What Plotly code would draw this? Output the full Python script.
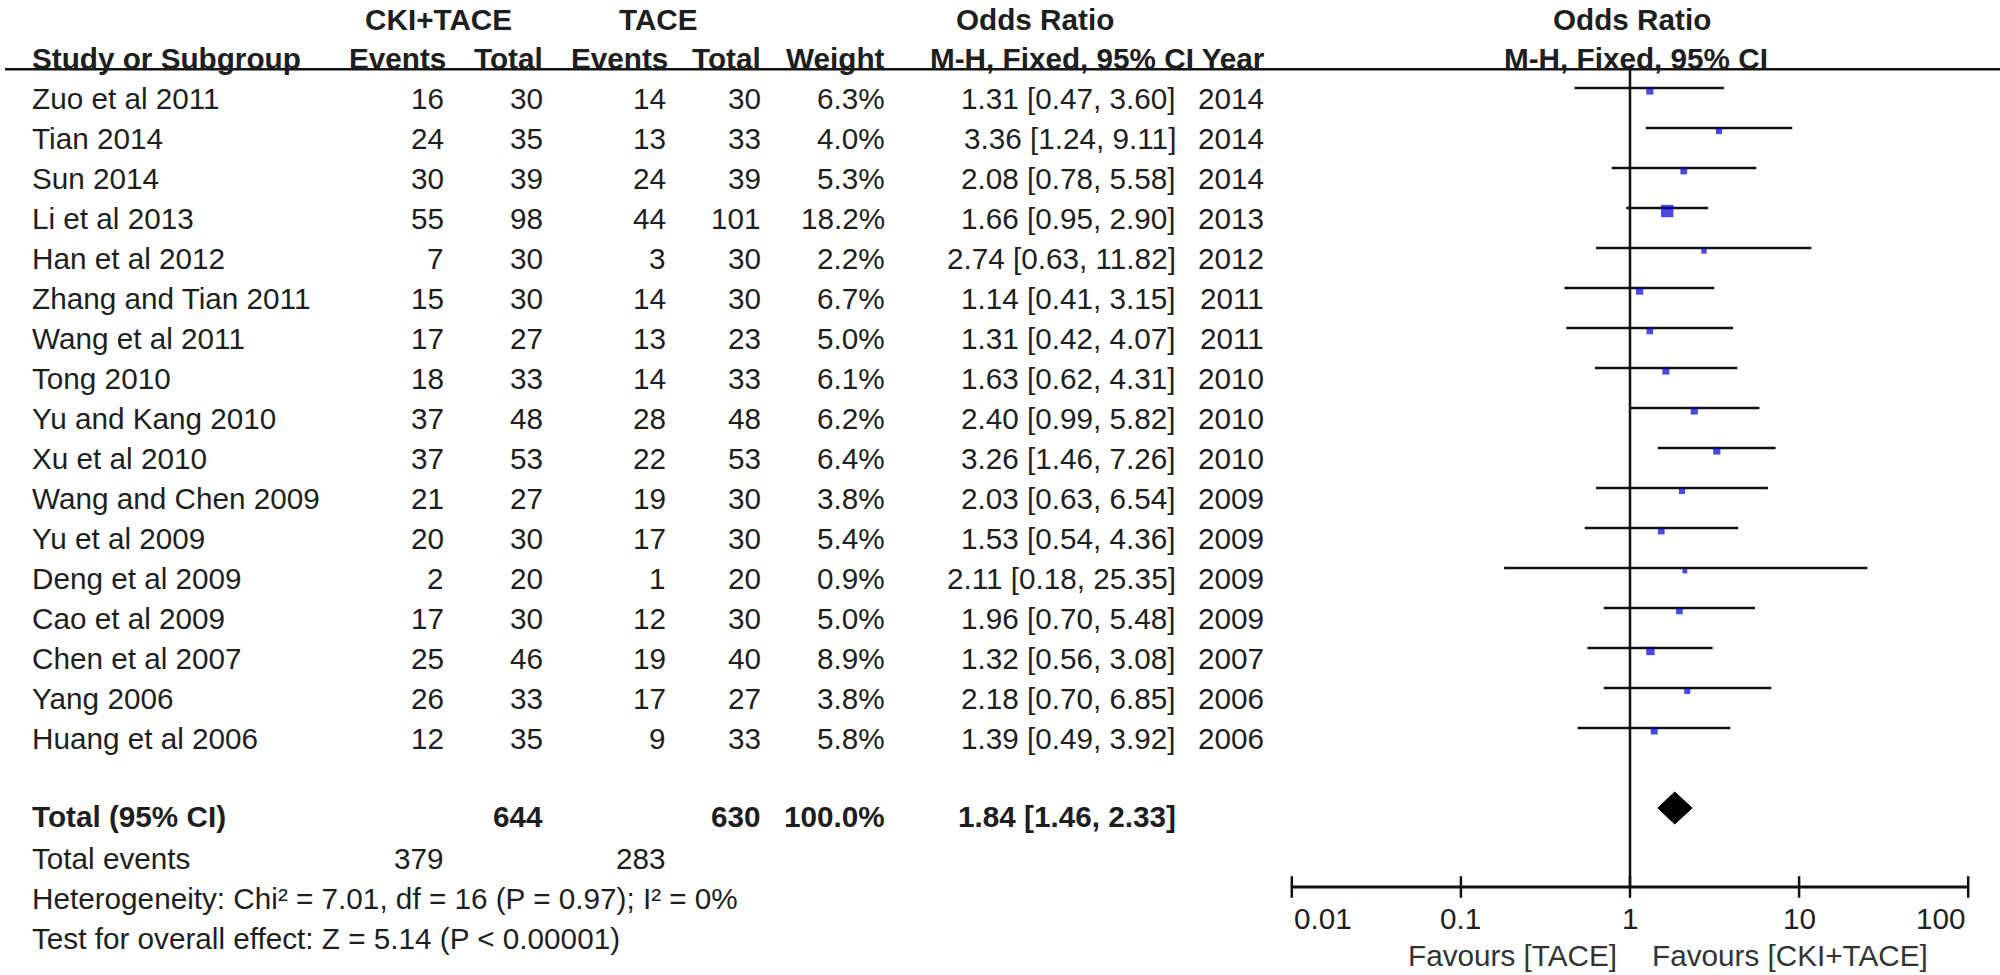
import numpy as np
import plotly.graph_objects as go

# ---------------- data ----------------
studies = ["Zuo et al 2011", "Tian 2014", "Sun 2014", "Li et al 2013", "Han et al 2012",
           "Zhang and Tian 2011", "Wang et al 2011", "Tong 2010", "Yu and Kang 2010",
           "Xu et al 2010", "Wang and Chen 2009", "Yu et al 2009", "Deng et al 2009",
           "Cao et al 2009", "Chen et al 2007", "Yang 2006", "Huang et al 2006"]
events_cki = [16, 24, 30, 55, 7, 15, 17, 18, 37, 37, 21, 20, 2, 17, 25, 26, 12]
total_cki = [30, 35, 39, 98, 30, 30, 27, 33, 48, 53, 27, 30, 20, 30, 46, 33, 35]
events_tace = [14, 13, 24, 44, 3, 14, 13, 14, 28, 22, 19, 17, 1, 12, 19, 17, 9]
total_tace = [30, 33, 39, 101, 30, 30, 23, 33, 48, 53, 30, 30, 20, 30, 40, 27, 33]
weights = [6.3, 4.0, 5.3, 18.2, 2.2, 6.7, 5.0, 6.1, 6.2, 6.4, 3.8, 5.4, 0.9, 5.0, 8.9, 3.8, 5.8]
odds = [1.31, 3.36, 2.08, 1.66, 2.74, 1.14, 1.31, 1.63, 2.40, 3.26, 2.03, 1.53, 2.11, 1.96, 1.32, 2.18, 1.39]
ci_low = [0.47, 1.24, 0.78, 0.95, 0.63, 0.41, 0.42, 0.62, 0.99, 1.46, 0.63, 0.54, 0.18, 0.70, 0.56, 0.70, 0.49]
ci_high = [3.60, 9.11, 5.58, 2.90, 11.82, 3.15, 4.07, 4.31, 5.82, 7.26, 6.54, 4.36, 25.35, 5.48, 3.08, 6.85, 3.92]
years = [2014, 2014, 2014, 2013, 2012, 2011, 2011, 2010, 2010, 2010, 2009, 2009, 2009, 2009, 2007, 2006, 2006]

total_n_cki = 644
total_n_tace = 630
total_weight = "100.0%"
total_or = 1.84
total_low = 1.46
total_high = 2.33
total_events_cki = 379
total_events_tace = 283
heterogeneity = "Heterogeneity: Chi² = 7.01, df = 16 (P = 0.97); I² = 0%"
overall = "Test for overall effect: Z = 5.14 (P < 0.00001)"

tick_vals = [0.01, 0.1, 1, 10, 100]
tick_text = ["0.01", "0.1", "1", "10", "100"]
favours_left = "Favours [TACE]"
favours_right = "Favours [CKI+TACE]"

# ---------------- layout helpers ----------------
W, H = 2000, 975
FONT = "Liberation Sans, Arial, sans-serif"
TXT = "#1e1e1e"
FS = 29.7

rows = list(range(1, len(studies) + 1))
total_row = len(studies) + 2
events_row = total_row + 1
het_row = total_row + 2
test_row = total_row + 3
axis_row = 20.975


def px(x):
    return x / W


annotations = []


def add_text(text, x, y, anchor="right", bold=False, yshift=-10, xref="paper", xshift=0, color=TXT):
    annotations.append(dict(
        text=str(text), x=x, y=y, xref=xref, yref="y", xanchor=anchor, yanchor="middle",
        showarrow=False, yshift=yshift, xshift=xshift,
        font=dict(family=FONT, size=FS, color=color, weight=700 if bold else 400)))


# column right edges in pixels
c_ev1, c_tot1, c_ev2, c_tot2, c_w, c_or, c_year = 446, 545, 668, 763, 887, 1178, 1266

# headers
hdr1 = -0.72
hdr2 = 0.25
add_text("CKI+TACE", px(438), hdr1, anchor="center", bold=True, yshift=0)
add_text("TACE", px(658), hdr1, anchor="center", bold=True, yshift=0)
add_text("Odds Ratio", px(1035), hdr1, anchor="center", bold=True, yshift=0)
add_text("Odds Ratio", 0, hdr1, anchor="center", bold=True, yshift=0, xref="x", xshift=2)
add_text("Study or Subgroup", px(30), hdr2, anchor="left", bold=True, yshift=0)
add_text("Events", px(c_ev1 + 2), hdr2, bold=True, yshift=0)
add_text("Total", px(c_tot1), hdr2, bold=True, yshift=0)
add_text("Events", px(c_ev2 + 2), hdr2, bold=True, yshift=0)
add_text("Total", px(c_tot2), hdr2, bold=True, yshift=0)
add_text("Weight", px(c_w), hdr2, bold=True, yshift=0)
add_text("M-H, Fixed, 95% CI Year", px(c_year + 1), hdr2, bold=True, yshift=0)
add_text("M-H, Fixed, 95% CI", 0, hdr2, anchor="center", bold=True, yshift=0, xref="x", xshift=6)

# study rows
for r, s, e1, t1, e2, t2, w, o, lo, hi, yr in zip(rows, studies, events_cki, total_cki, events_tace,
                                                   total_tace, weights, odds, ci_low, ci_high, years):
    add_text(s, px(30), r, anchor="left")
    add_text(e1, px(c_ev1), r)
    add_text(t1, px(c_tot1), r)
    add_text(e2, px(c_ev2), r)
    add_text(t2, px(c_tot2), r)
    add_text(f"{w:.1f}%", px(c_w), r)
    add_text(f"{o:.2f} [{lo:.2f}, {hi:.2f}]", px(c_or), r)
    add_text(yr, px(c_year), r)

# totals
add_text("Total (95% CI)", px(30), total_row, anchor="left", bold=True, yshift=-8)
add_text(total_n_cki, px(c_tot1), total_row, bold=True, yshift=-8)
add_text(total_n_tace, px(c_tot2), total_row, bold=True, yshift=-8)
add_text(total_weight, px(c_w), total_row, bold=True, yshift=-8)
add_text(f"{total_or:.2f} [{total_low:.2f}, {total_high:.2f}]", px(c_or), total_row, bold=True, yshift=-8)
add_text("Total events", px(30), events_row, anchor="left")
add_text(total_events_cki, px(c_ev1), events_row)
add_text(total_events_tace, px(c_ev2), events_row)
add_text(heterogeneity, px(30), het_row, anchor="left")
add_text(overall, px(30), test_row, anchor="left")

# axis tick labels & favours labels
for i, (v, t) in enumerate(zip(tick_vals, tick_text)):
    anchor = "left" if i == 0 else ("right" if i == len(tick_vals) - 1 else "center")
    add_text(t, float(np.log10(v)), axis_row, anchor=anchor, xref="x", yshift=-31)
add_text(favours_left, 0, axis_row, anchor="right", xref="x", yshift=-68, xshift=-11, color="#333333")
add_text(favours_right, 0, axis_row, anchor="left", xref="x", yshift=-68, xshift=20, color="#333333")

# ---------------- traces ----------------
fig = go.Figure()

ci_x, ci_y = [], []
for r, lo, hi in zip(rows, ci_low, ci_high):
    ci_x += [lo, hi, None]
    ci_y += [r, r, None]
fig.add_trace(go.Scatter(x=ci_x, y=ci_y, mode="lines", line=dict(color="#111111", width=2.5),
                         hoverinfo="skip", showlegend=False))

square_offset = 3 / 40  # squares sit a few pixels below the CI line
fig.add_trace(go.Scatter(x=odds, y=[r + square_offset for r in rows], mode="markers",
                         marker=dict(symbol="square", color="#0000CC",
                                     size=[4.4 + 0.44 * w for w in weights],
                                     line=dict(width=0)),
                         showlegend=False))

dh = 0.4
fig.add_trace(go.Scatter(x=[total_low, total_or, total_high, total_or, total_low],
                         y=[total_row, total_row - dh, total_row, total_row + dh, total_row],
                         mode="lines", fill="toself", fillcolor="#000000",
                         line=dict(color="#000000", width=1), showlegend=False))

shapes = []
# header divider
shapes.append(dict(type="line", xref="paper", yref="y", x0=px(5), x1=1, y0=0.53, y1=0.53,
                   line=dict(color="#111111", width=2.5)))
# line of no effect
shapes.append(dict(type="line", xref="x", yref="y", x0=1, x1=1, y0=0.53, y1=axis_row,
                   line=dict(color="#111111", width=2.5)))
# x axis
shapes.append(dict(type="line", xref="x", yref="y", x0=tick_vals[0], x1=tick_vals[-1],
                   y0=axis_row, y1=axis_row, line=dict(color="#111111", width=3)))
for v in tick_vals:
    shapes.append(dict(type="line", xref="x", yref="y", x0=v, x1=v,
                       y0=axis_row - 0.27, y1=axis_row + 0.27, line=dict(color="#111111", width=2.5)))

x_center, decade = 1630.0, 169.1
fig.update_layout(
    width=W, height=H, margin=dict(l=0, r=0, t=0, b=0),
    paper_bgcolor="white", plot_bgcolor="white",
    xaxis=dict(type="log", range=[(0 - x_center) / decade, (W - x_center) / decade],
               domain=[0, 1], visible=False, fixedrange=True),
    yaxis=dict(range=[1 + (H - 88) / 40, 1 + (0 - 88) / 40], domain=[0, 1], visible=False,
               fixedrange=True),
    annotations=annotations, shapes=shapes, showlegend=False,
)

fig.write_html("out.html", config={"displayModeBar": False},
               post_script="document.body.style.margin='0';document.body.style.overflow='hidden';")
